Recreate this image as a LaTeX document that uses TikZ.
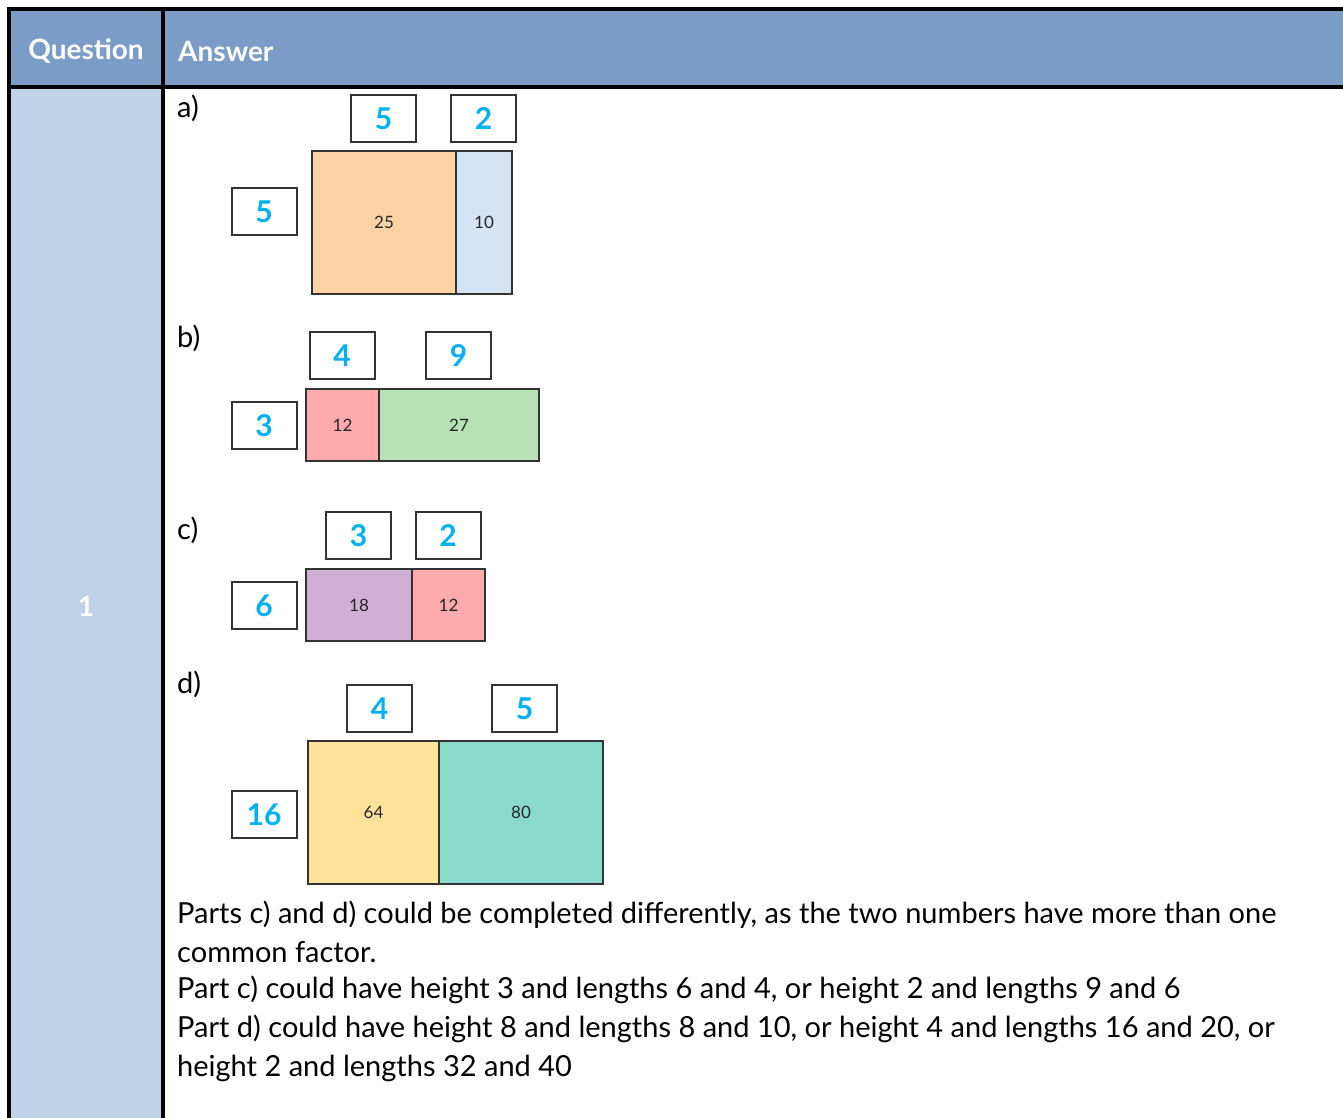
\documentclass[tikz,border=0pt]{standalone}
\usepackage{fontspec}
\setmainfont{Lato}
\definecolor{hdr}{HTML}{7A9CC6}
\definecolor{qcol}{HTML}{C0D2E7}
\definecolor{numblue}{HTML}{00B0F0}
\definecolor{cOrange}{HTML}{FDD3A5}
\definecolor{cBlue}{HTML}{D5E4F5}
\definecolor{cPink}{HTML}{FFABAD}
\definecolor{cGreen}{HTML}{B8E2B5}
\definecolor{cPurple}{HTML}{D0AFD5}
\definecolor{cYellow}{HTML}{FFE39A}
\definecolor{cTeal}{HTML}{8ADACB}
\definecolor{edge}{HTML}{333333}
\begin{document}
\begin{tikzpicture}[x=1pt,y=-1pt,
  numbox/.style={draw=edge,line width=2pt,fill=white,minimum width=65pt,minimum height=47pt,inner sep=0pt,text=numblue,font=\fontsize{30}{31}\selectfont\bfseries},
  cell/.style={draw=edge,line width=2pt,inner sep=0pt,text=black!85,font=\fontsize{17}{18}\selectfont},
  lbl/.style={anchor=west,inner sep=0pt,font=\fontsize{29}{31}\selectfont},
  body/.style={anchor=west,inner sep=0pt,font=\fontsize{29}{31}\selectfont},
  hdrtxt/.style={text=white,inner sep=0pt,font=\fontsize{28}{30}\selectfont\bfseries},
  rule/.style={line width=4pt,black}]
\useasboundingbox (0,0) rectangle (1343,1117);
\fill[white] (0,0) rectangle (1343,1117);
% fills
\fill[hdr] (9,9) rectangle (1350,87);
\fill[qcol] (9,87) rectangle (163,1125);
% rules
\draw[rule] (7,9) -- (1350,9);
\draw[rule] (7,87) -- (1350,87);
\draw[rule] (9,7) -- (9,1125);
\draw[rule] (163,7) -- (163,1125);
% header text
\node[hdrtxt] (hq) at (86,51) {Question};
\node[hdrtxt,anchor=west] (ha) at (178,51) {Answer};
\node[hdrtxt] (q1) at (86,606) {1};
% part a
\node[lbl] (la) at (177,108) {a)};
\node[numbox] (a1) at (383.5,118.5) {5};
\node[numbox] (a2) at (483.5,118.5) {2};
\node[numbox] (a3) at (264,211.5) {5};
\node[cell,fill=cOrange,minimum width=144pt,minimum height=143pt] (a4) at (384,222.5) {25};
\node[cell,fill=cBlue,minimum width=56pt,minimum height=143pt] (a5) at (484,222.5) {10};
% part b
\node[lbl] (lb) at (177,338) {b)};
\node[numbox] (b1) at (342,355.5) {4};
\node[numbox] (b2) at (458.5,355.5) {9};
\node[numbox] (b3) at (264,425.5) {3};
\node[cell,fill=cPink,minimum width=73pt,minimum height=72pt] (b4) at (342.5,425) {12};
\node[cell,fill=cGreen,minimum width=160pt,minimum height=72pt] (b5) at (459,425) {27};
% part c
\node[lbl] (lc) at (177,530) {c)};
\node[numbox] (c1) at (358.5,535.5) {3};
\node[numbox] (c2) at (448,535.5) {2};
\node[numbox] (c3) at (264,605.5) {6};
\node[cell,fill=cPurple,minimum width=106pt,minimum height=72pt] (c4) at (359,605) {18};
\node[cell,fill=cPink,minimum width=73pt,minimum height=72pt] (c5) at (448.5,605) {12};
% part d
\node[lbl] (ld) at (177,684) {d)};
\node[numbox] (d1) at (379.5,708.5) {4};
\node[numbox] (d2) at (524.5,708.5) {5};
\node[numbox] (d3) at (264,814.5) {16};
\node[cell,fill=cYellow,minimum width=131pt,minimum height=143pt] (d4) at (373.5,812.5) {64};
\node[cell,fill=cTeal,minimum width=164pt,minimum height=143pt] (d5) at (521,812.5) {80};
% notes
\node[body] (t1) at (177,915) {Parts c) and d) could be completed differently, as the two numbers have more than one};
\node[body] (t2) at (177,952) {common factor.};
\node[body] (t3) at (177,990) {Part c) could have height 3 and lengths 6 and 4, or height 2 and lengths 9 and 6};
\node[body] (t4) at (177,1029) {Part d) could have height 8 and lengths 8 and 10, or height 4 and lengths 16 and 20, or};
\node[body] (t5) at (177,1068) {height 2 and lengths 32 and 40};
\end{tikzpicture}
\end{document}
